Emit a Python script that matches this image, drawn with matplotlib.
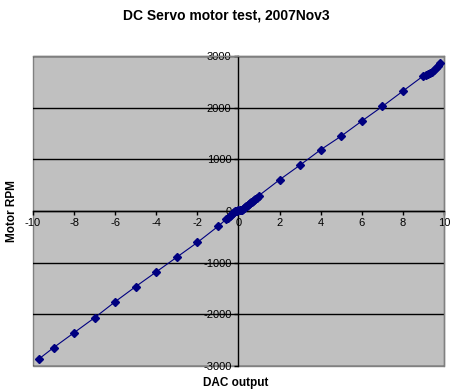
import matplotlib
matplotlib.use("Agg")
import matplotlib.pyplot as plt

plt.rcParams['font.family'] = ['Liberation Sans', 'DejaVu Sans']

dac_output = [-9.7, -9, -8, -7, -6, -5, -4, -3, -2, -1,
              -0.6, -0.5, -0.4, -0.35, -0.3, -0.25, -0.2, -0.15, -0.1, -0.05,
              0, 0.05, 0.1, 0.15, 0.2, 0.25, 0.3, 0.35, 0.4, 0.45,
              0.5, 0.55, 0.6, 0.65, 0.7, 0.75, 0.8, 0.9, 1.0,
              2, 3, 4, 5, 6, 7, 8,
              9, 9.1, 9.2, 9.3, 9.4, 9.5, 9.6, 9.7, 9.8]
motor_rpm = [-2860, -2645, -2355, -2065, -1755, -1462, -1178, -893, -608, -298,
             -160, -130, -100, -85, -60, -40, -15, 0, 5, 8,
             10, 12, 15, 20, 35, 50, 70, 90, 105, 120,
             135, 150, 165, 180, 195, 210, 225, 255, 300,
             605, 890, 1186, 1450, 1741, 2023, 2321,
             2617, 2640, 2660, 2680, 2700, 2730, 2760, 2800, 2860]

x_ticks = [-10, -8, -6, -4, -2, 0, 2, 4, 6, 8, 10]
y_ticks = [-3000, -2000, -1000, 0, 1000, 2000, 3000]

fig = plt.figure(figsize=(4.56, 3.92), dpi=100)
fig.patch.set_facecolor('white')
ax = fig.add_axes([33/456, 1 - 366/392, (444-33)/456, (366-56)/392])
ax.set_facecolor('#C0C0C0')

ax.plot(dac_output, motor_rpm, color='#000080', lw=0.8, marker='D',
        markersize=3.8, markerfacecolor='#000080', markeredgecolor='#000080', zorder=3)

ax.set_xlim(-10, 10)
ax.set_ylim(-3000, 3000)
ax.set_xticks(x_ticks)
ax.set_yticks(y_ticks)
ax.set_xticklabels([str(v) for v in x_ticks])
ax.set_yticklabels([str(v) for v in y_ticks])

ax.yaxis.grid(True, color='black', lw=1.0)
ax.set_axisbelow(True)

for s in ['top', 'right']:
    ax.spines[s].set_color('#808080')
    ax.spines[s].set_linewidth(1.0)
ax.spines['left'].set_position(('data', 0))
ax.spines['bottom'].set_position(('data', 0))
ax.spines['left'].set_color('black')
ax.spines['bottom'].set_color('black')
ax.spines['left'].set_linewidth(1.0)
ax.spines['bottom'].set_linewidth(1.0)

ax.patch.set_edgecolor('#808080')
ax.patch.set_linewidth(1.0)

ax.tick_params(axis='both', direction='out', length=3, width=1, color='black',
               labelsize=8, pad=2)

fig.text(226/456, 1 - 16/392, 'DC Servo motor test, 2007Nov3', ha='center', va='center',
         fontsize=10, fontweight='bold')
fig.text(236/456, 1 - 383/392, 'DAC output', ha='center', va='center',
         fontsize=8.5, fontweight='bold')
fig.text(12/456, 1 - 211/392, 'Motor RPM', ha='center', va='center',
         rotation=90, fontsize=8.5, fontweight='bold')

fig.savefig('out.png', dpi=100)
